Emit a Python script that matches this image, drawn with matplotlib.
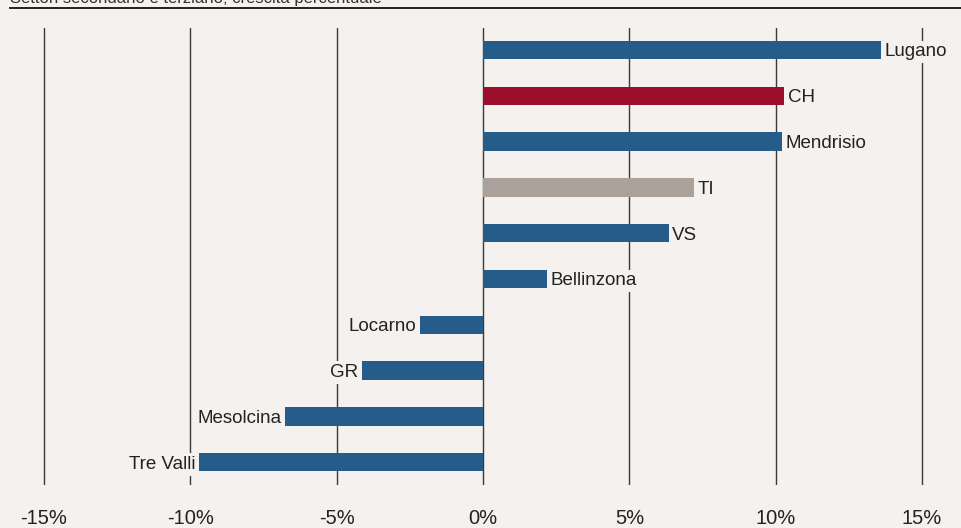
import matplotlib
matplotlib.use("Agg")
import matplotlib.pyplot as plt
from matplotlib.lines import Line2D

plt.rcParams['font.family'] = ['Liberation Sans', 'DejaVu Sans']

categories = ["Lugano", "CH", "Mendrisio", "TI", "VS", "Bellinzona",
              "Locarno", "GR", "Mesolcina", "Tre Valli"]
values = [13.6, 10.3, 10.2, 7.2, 6.35, 2.2, -2.15, -4.15, -6.75, -9.7]
kinds = ["reg", "ch", "reg", "ti", "reg", "reg", "reg", "reg", "reg", "reg"]
ticks = [-15, -10, -5, 0, 5, 10, 15]
tick_labels = ["-15%", "-10%", "-5%", "0%", "5%", "10%", "15%"]
title = "Settori secondario e terziario; crescita percentuale"

colors = {"reg": "#255c8a", "ch": "#9c0e2c", "ti": "#aaa19b"}
bg = "#f4f1ee"

W, H = 962, 528
fig = plt.figure(figsize=(W / 100, H / 100), dpi=100, facecolor=bg)
ax = fig.add_axes([0, (H - 485) / H, 1, (485 - 28) / H])
ax.set_facecolor(bg)

px_per = 29.27
x0 = 483
ax.set_xlim(-x0 / px_per, (W - x0) / px_per)
step = 45.8
ax.set_ylim((485 - 50) / step, (28 - 50) / step)

for t in ticks:
    ax.axvline(t, color="#3a3a3a", lw=1.0, zorder=1)

y = list(range(len(categories)))
ax.barh(y, values, height=0.4, color=[colors[k] for k in kinds], zorder=2)

for yi, v, c in zip(y, values, categories):
    off = 0.12
    if v >= 0:
        ax.text(v + off, yi, c, ha="left", va="center_baseline", fontsize=13.5,
                color="#222222", zorder=3,
                bbox=dict(boxstyle="square,pad=0.15", fc=bg, ec="none"))
    else:
        ax.text(v - off, yi, c, ha="right", va="center_baseline", fontsize=13.5,
                color="#222222", zorder=3,
                bbox=dict(boxstyle="square,pad=0.15", fc=bg, ec="none"))

ax.set_xticks(ticks)
ax.set_xticklabels(tick_labels, fontsize=14.5, color="#222222")
ax.tick_params(axis="x", length=0, pad=17)
ax.set_yticks([])
for s in ax.spines.values():
    s.set_visible(False)

fig.text(10 / W, (H - 3) / H, title, fontsize=12, color="#333333",
         ha="left", va="baseline")
fig.add_artist(Line2D([10 / W, 1], [(H - 8) / H, (H - 8) / H],
                      transform=fig.transFigure, color="#111111", lw=1.3))

fig.savefig("out.png", dpi=100, facecolor=bg)
